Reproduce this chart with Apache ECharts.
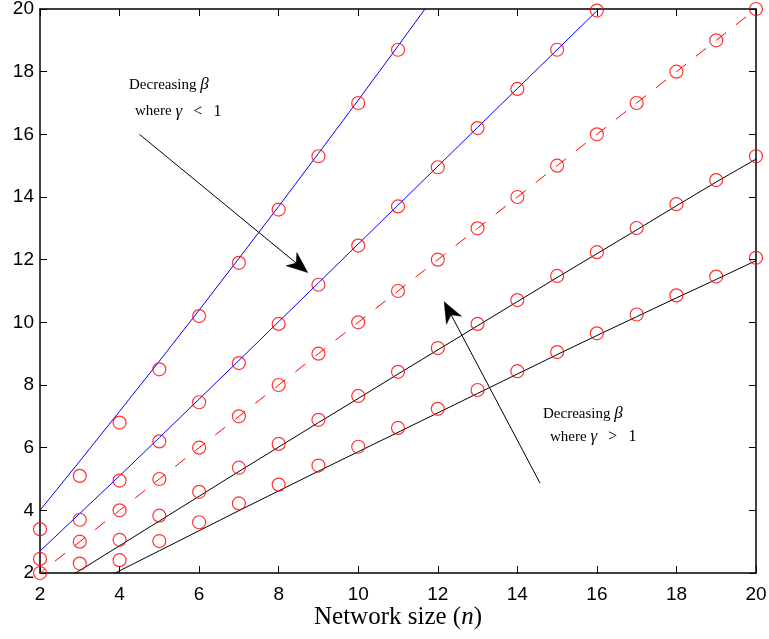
<!DOCTYPE html>
<html>
<head>
<meta charset="utf-8">
<script src="https://cdn.jsdelivr.net/npm/echarts@6.0.0/dist/echarts.min.js"></script>
<style>
  html, body { margin: 0; padding: 0; background: #fff; }
  #chart { width: 769px; height: 639px; }
</style>
</head>
<body>
<div id="chart"></div>
<script>
// curves
const blueLine1 = [4.0, 5.57, 7.16, 8.76, 10.39, 12.04, 13.70, 15.39, 17.09, 18.82, 20.56]        // n = 2..12
const blueLine2 = [2.70, 3.90, 5.10, 6.32, 7.55, 8.78, 10.02, 11.26, 12.50, 13.74, 14.98, 16.22, 17.46, 18.70, 19.94] // n = 2..16
const redLine = [2, 3, 4, 5, 6, 7, 8, 9, 10, 11, 12, 13, 14, 15, 16, 17, 18, 19, 20]               // n = 2..20
const blackLine1 = [1.29, 2.08, 2.87, 3.66, 4.45, 5.24, 6.02, 6.80, 7.57, 8.35, 9.12, 9.89, 10.66, 11.43, 12.19, 12.95, 13.72, 14.48, 15.21] // n = 2..20
const blackLine2 = [0.78, 1.43, 2.07, 2.71, 3.35, 3.99, 4.62, 5.25, 5.87, 6.49, 7.11, 7.73, 8.35, 8.97, 9.58, 10.18, 10.78, 11.37, 11.97]   // n = 2..20

// circle markers
const blueMarks1 = [3.4, 5.1, 6.8, 8.5, 10.2, 11.9, 13.6, 15.3, 17.0, 18.7]                        // n = 2..11
const blueMarks2 = [2.45, 3.7, 4.95, 6.2, 7.45, 8.7, 9.95, 11.2, 12.45, 13.7, 14.95, 16.2, 17.45, 18.7, 19.95] // n = 2..16
const redMarks = [2, 3, 4, 5, 6, 7, 8, 9, 10, 11, 12, 13, 14, 15, 16, 17, 18, 19, 20]              // n = 2..20
const blackMarks1 = [2.3, 3.06, 3.83, 4.59, 5.36, 6.12, 6.89, 7.65, 8.42, 9.18, 9.95, 10.71, 11.48, 12.24, 13.01, 13.77, 14.54, 15.3] // n = 3..20
const blackMarks2 = [2.41, 3.02, 3.62, 4.22, 4.82, 5.43, 6.03, 6.63, 7.24, 7.84, 8.44, 9.05, 9.65, 10.25, 10.86, 11.46, 12.06]       // n = 4..20

// annotation arrows: [from, to] in data coords
const arrows = [
  [[4.5, 16.0], [8.73, 11.59]],
  [[14.57, 4.87], [12.16, 10.66]]
]

// pair values with n starting at a given n
const pairs = (vals, start) => vals.map((v, i) => [start + i, v])

const chart = echarts.init(document.getElementById('chart'))

const serif = '"Liberation Serif", "Times New Roman", serif'
const sans = '"Liberation Sans", Arial, sans-serif'

const lineSeries = (data, color, dashed) => ({
  type: 'line',
  data: data,
  symbol: 'none',
  clip: true,
  silent: true,
  lineStyle: dashed
    ? { color: color, width: 1, type: [12.8, 12.7], dashOffset: 6.4 }
    : { color: color, width: 1 },
  z: 2
})

const markSeries = (data) => ({
  type: 'scatter',
  data: data,
  symbol: 'circle',
  symbolSize: 13,
  clip: false,
  silent: true,
  itemStyle: { color: 'rgba(0,0,0,0)', borderColor: '#ff0000', borderWidth: 1.2 },
  z: 3
})

const axisCommon = {
  type: 'value',
  min: 2,
  max: 20,
  interval: 2,
  splitLine: { show: false },
  axisLine: { show: true, onZero: false, lineStyle: { color: '#000', width: 1.5 } },
  axisTick: { show: true, inside: true, length: 7, lineStyle: { color: '#000', width: 1 } }
}

const annText = (x, y, text) => ({
  type: 'text', x: x, y: y, z: 10,
  style: {
    text: text, font: '15px ' + serif, fill: '#000', verticalAlign: 'middle',
    rich: {
      b: { fontFamily: serif, fontSize: 17, fontStyle: 'italic' },
      g: { fontFamily: serif, fontSize: 17, fontStyle: 'italic' },
      m: { fontFamily: serif, fontSize: 16 }
    }
  }
})

const option = {
  animation: false,
  backgroundColor: '#fff',
  grid: { left: 40, right: 13, top: 9, bottom: 66, containLabel: false, outerBoundsMode: 'none' },
  xAxis: [
    Object.assign({}, axisCommon, {
      position: 'bottom',
      name: 'Network size ({n|n})',
      nameLocation: 'middle',
      nameGap: 32,
      nameMoveOverlap: false,
      nameTextStyle: {
        fontFamily: serif, fontSize: 25, color: '#000',
        rich: { n: { fontFamily: serif, fontSize: 25, fontStyle: 'italic', color: '#000' } }
      },
      axisLabel: { show: true, margin: 12, fontFamily: sans, fontSize: 19, color: '#000', showMinLabel: true, showMaxLabel: true }
    }),
    Object.assign({}, axisCommon, {
      position: 'top',
      axisLabel: { show: false }
    })
  ],
  yAxis: [
    Object.assign({}, axisCommon, {
      position: 'left',
      axisLabel: { show: true, margin: 6, fontFamily: sans, fontSize: 19, color: '#000', showMinLabel: true, showMaxLabel: true }
    }),
    Object.assign({}, axisCommon, {
      position: 'right',
      axisLabel: { show: false }
    })
  ],
  series: [
    lineSeries(pairs(blueLine1, 2), '#0000ff'),
    lineSeries(pairs(blueLine2, 2), '#0000ff'),
    lineSeries(pairs(redLine, 2), '#ff0000', true),
    lineSeries(pairs(blackLine1, 2), '#000000'),
    lineSeries(pairs(blackLine2, 2), '#000000'),
    markSeries(pairs(blueMarks1, 2)),
    markSeries(pairs(blueMarks2, 2)),
    markSeries(pairs(redMarks, 2)),
    markSeries(pairs(blackMarks1, 3)),
    markSeries(pairs(blackMarks2, 4))
  ]
}

chart.setOption(option)

// arrows: shaft + notched head, placed through the axes
const finder = { xAxisIndex: 0, yAxisIndex: 0 }
const arrowGraphics = []
arrows.forEach(a => {
  const p0 = chart.convertToPixel(finder, a[0])
  const p1 = chart.convertToPixel(finder, a[1])
  const dx = p1[0] - p0[0], dy = p1[1] - p0[1]
  const len = Math.sqrt(dx * dx + dy * dy)
  const ux = dx / len, uy = dy / len
  const px = -uy, py = ux
  const L = 21, W = 8.5
  const notch = [p1[0] - 0.71 * L * ux, p1[1] - 0.71 * L * uy]
  arrowGraphics.push({
    type: 'line', z: 10, silent: true,
    shape: { x1: p0[0], y1: p0[1], x2: notch[0], y2: notch[1] },
    style: { stroke: '#000', lineWidth: 1 }
  })
  arrowGraphics.push({
    type: 'polygon', z: 10, silent: true,
    shape: { points: [
      [p1[0], p1[1]],
      [p1[0] - L * ux + W * px, p1[1] - L * uy + W * py],
      notch,
      [p1[0] - L * ux - W * px, p1[1] - L * uy - W * py]
    ] },
    style: { fill: '#000', stroke: '#000', lineWidth: 0.5 }
  })
})

chart.setOption({
  graphic: arrowGraphics.concat([
    annText(129, 85, 'Decreasing {b|β}'),
    annText(135, 111.5, 'where {g|γ}   {m|<}   {m|1}'),
    annText(543, 414, 'Decreasing {b|β}'),
    annText(550, 437, 'where {g|γ}   {m|>}   {m|1}')
  ])
})
</script>
</body>
</html>
